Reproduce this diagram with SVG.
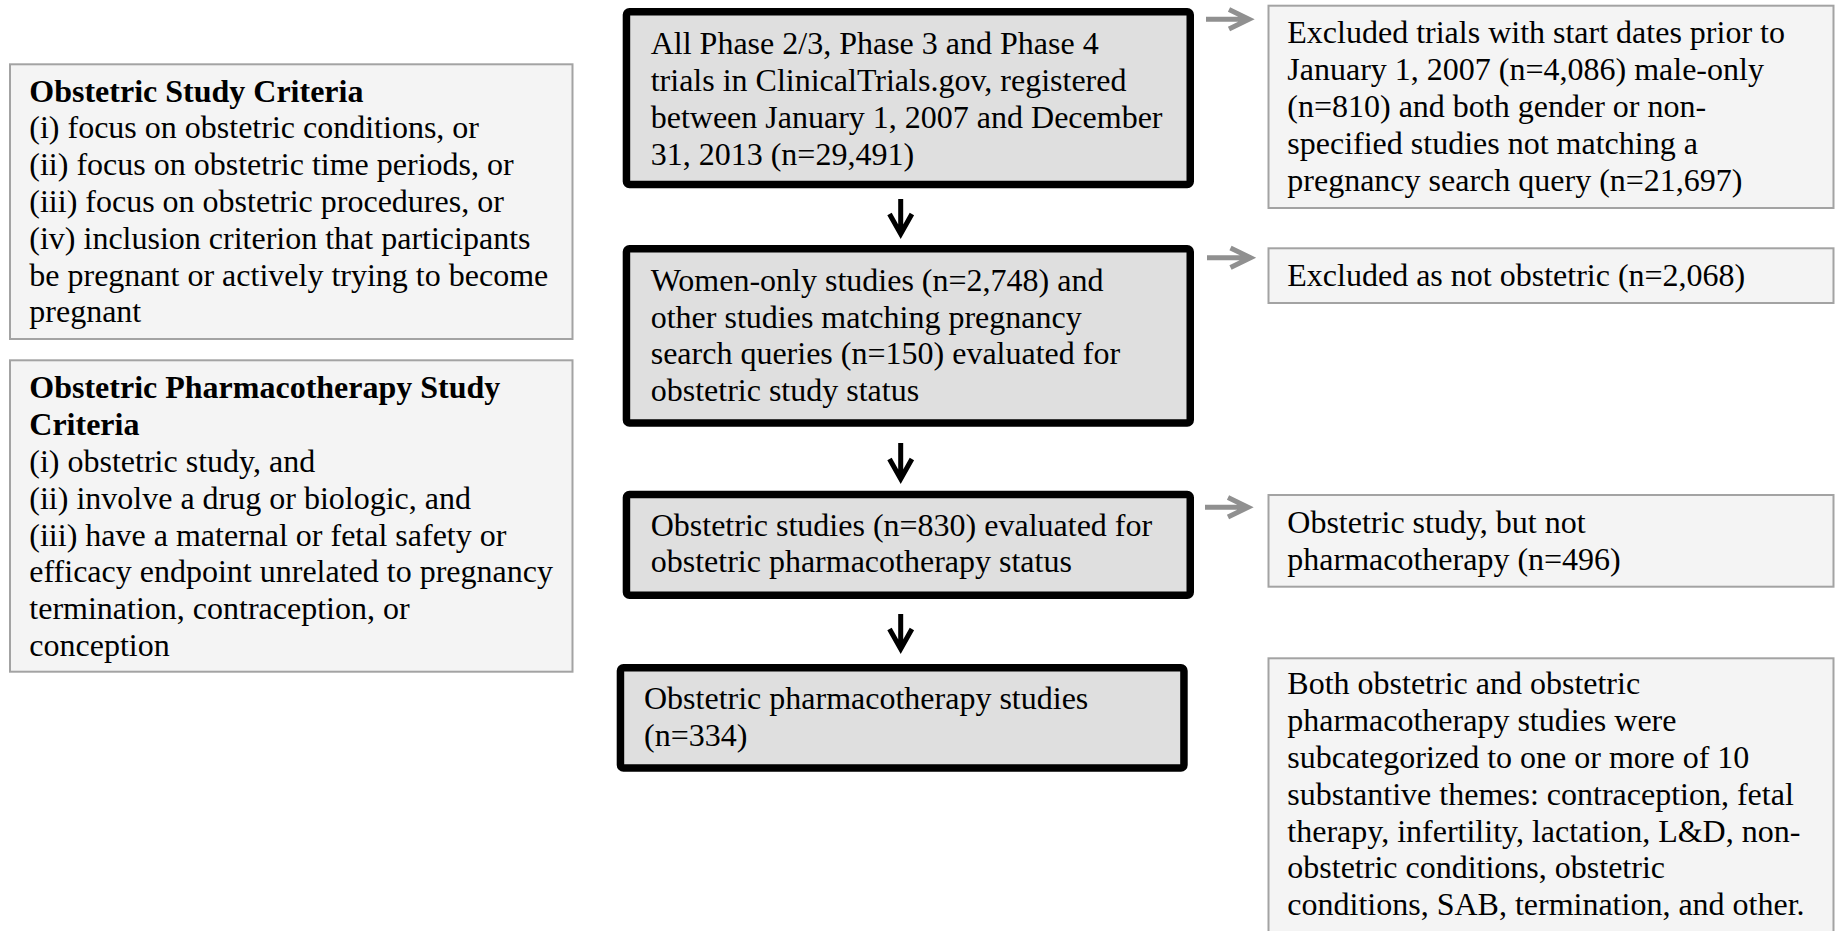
<svg xmlns="http://www.w3.org/2000/svg" width="1836" height="931" viewBox="0 0 1836 931">
<style>
text{font-family:"Liberation Serif","Times New Roman",serif;font-size:32px;fill:#000}
.b{font-weight:bold}
.thick{fill:#dfdfdf;stroke:#000;stroke-width:7.5}
.thin{fill:#f4f4f4;stroke:#a3a3a3;stroke-width:2}
.dn{fill:none;stroke:#000;stroke-width:5}
.rt{fill:none;stroke:#909090;stroke-width:5}
</style>
<rect width="1836" height="931" fill="#fff"/>
<g id="criteria-obstetric">
<rect class="thin" x="10" y="64.3" width="562.5" height="274.7"/>
<text x="29.3" y="101.5" class="b">Obstetric Study Criteria</text>
<text x="29.3" y="138.3">(i) focus on obstetric conditions, or</text>
<text x="29.3" y="175.1">(ii) focus on obstetric time periods, or</text>
<text x="29.3" y="211.9">(iii) focus on obstetric procedures, or</text>
<text x="29.3" y="248.7">(iv) inclusion criterion that participants</text>
<text x="29.3" y="285.5">be pregnant or actively trying to become</text>
<text x="29.3" y="322.3">pregnant</text>
</g>
<g id="criteria-pharmacotherapy">
<rect class="thin" x="10" y="360.3" width="562.5" height="311.4"/>
<text x="29.3" y="398.3" class="b">Obstetric Pharmacotherapy Study</text>
<text x="29.3" y="435.1" class="b">Criteria</text>
<text x="29.3" y="471.9">(i) obstetric study, and</text>
<text x="29.3" y="508.7">(ii) involve a drug or biologic, and</text>
<text x="29.3" y="545.5">(iii) have a maternal or fetal safety or</text>
<text x="29.3" y="582.3">efficacy endpoint unrelated to pregnancy</text>
<text x="29.3" y="619.1">termination, contraception, or</text>
<text x="29.3" y="655.9">conception</text>
</g>
<g id="all-trials">
<rect class="thick" x="626.45" y="11.75" width="563.8" height="172.8" rx="3"/>
<text x="650.7" y="54.3">All Phase 2/3, Phase 3 and Phase 4</text>
<text x="650.7" y="91.1">trials in ClinicalTrials.gov, registered</text>
<text x="650.7" y="127.9">between January 1, 2007 and December</text>
<text x="650.7" y="164.7">31, 2013 (n=29,491)</text>
</g>
<g id="women-only">
<rect class="thick" x="626.45" y="248.75" width="563.8" height="174.2" rx="3"/>
<text x="650.7" y="290.7">Women-only studies (n=2,748) and</text>
<text x="650.7" y="327.5">other studies matching pregnancy</text>
<text x="650.7" y="364.3">search queries (n=150) evaluated for</text>
<text x="650.7" y="401.1">obstetric study status</text>
</g>
<g id="obstetric-studies">
<rect class="thick" x="626.45" y="494.45" width="563.8" height="100.8" rx="3"/>
<text x="650.7" y="535.5">Obstetric studies (n=830) evaluated for</text>
<text x="650.7" y="572.3">obstetric pharmacotherapy status</text>
</g>
<g id="pharmacotherapy-studies">
<rect class="thick" x="620.45" y="667.75" width="563.5" height="100.2" rx="3"/>
<text x="644" y="708.8">Obstetric pharmacotherapy studies</text>
<text x="644" y="745.6">(n=334)</text>
</g>
<g id="excluded-dates">
<rect class="thin" x="1268.5" y="5.7" width="565" height="202.3"/>
<text x="1287.3" y="43.3">Excluded trials with start dates prior to</text>
<text x="1287.3" y="80.1">January 1, 2007 (n=4,086) male-only</text>
<text x="1287.3" y="116.9">(n=810) and both gender or non-</text>
<text x="1287.3" y="153.7">specified studies not matching a</text>
<text x="1287.3" y="190.5">pregnancy search query (n=21,697)</text>
</g>
<g id="excluded-not-obstetric">
<rect class="thin" x="1268.5" y="248.3" width="565" height="54.7"/>
<text x="1287.3" y="286">Excluded as not obstetric (n=2,068)</text>
</g>
<g id="not-pharmacotherapy">
<rect class="thin" x="1268.5" y="495" width="565" height="91.7"/>
<text x="1287.3" y="533.3">Obstetric study, but not</text>
<text x="1287.3" y="570.1">pharmacotherapy (n=496)</text>
</g>
<g id="themes-note">
<rect class="thin" x="1268.5" y="658.3" width="565" height="290"/>
<text x="1287.3" y="694.3">Both obstetric and obstetric</text>
<text x="1287.3" y="731.1">pharmacotherapy studies were</text>
<text x="1287.3" y="767.9">subcategorized to one or more of 10</text>
<text x="1287.3" y="804.7">substantive themes: contraception, fetal</text>
<text x="1287.3" y="841.5">therapy, infertility, lactation, L&amp;D, non-</text>
<text x="1287.3" y="878.3">obstetric conditions, obstetric</text>
<text x="1287.3" y="915.1">conditions, SAB, termination, and other.</text>
</g>
<g id="connectors">
<path class="dn" d="M900.7,199 V233 M889.5,214 L900.7,234 L911.9,214"/>
<path class="dn" d="M900.7,443 V478 M889.5,459 L900.7,479 L911.9,459"/>
<path class="dn" d="M900.7,614 V648 M889.5,629 L900.7,649 L911.9,629"/>
<path class="rt" d="M1206,19.3 H1248 M1229,9.5 L1249,19.3 L1229,29.1"/>
<path class="rt" d="M1207,257.7 H1249.5 M1230.5,247.9 L1250.5,257.7 L1230.5,267.5"/>
<path class="rt" d="M1205,507.3 H1247 M1228,497.5 L1248,507.3 L1228,517.1"/>
</g>
</svg>
